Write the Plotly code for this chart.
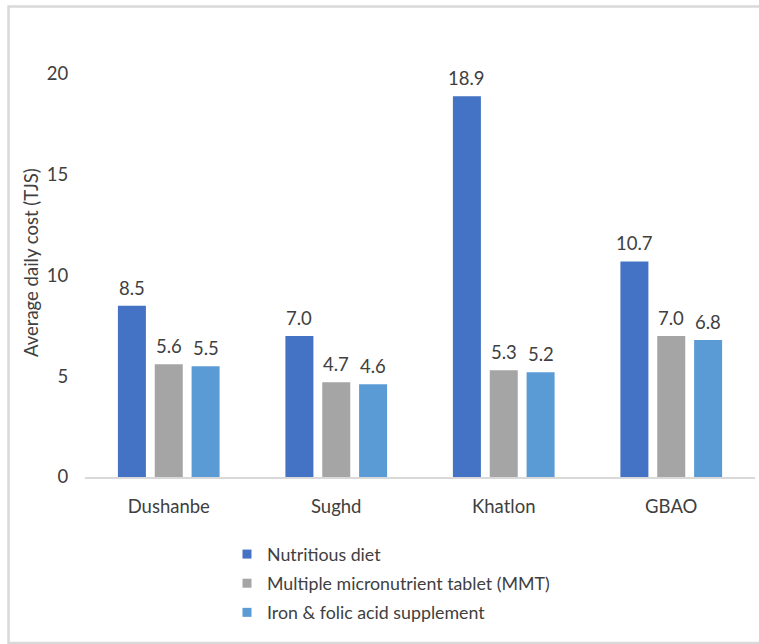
import plotly.graph_objects as go

# Average daily cost by region (TJS)
regions = ["Dushanbe", "Sughd", "Khatlon", "GBAO"]
nutritious_diet = [8.5, 7.0, 18.9, 10.7]
mmt_tablet = [5.6, 4.7, 5.3, 7.0]
ifa_supplement = [5.5, 4.6, 5.2, 6.8]

series_names = [
    "Nutritious diet",
    "Multiple micronutrient tablet (MMT)",
    "Iron & folic acid supplement",
]
series_values = [nutritious_diet, mmt_tablet, ifa_supplement]
series_colors = ["#4472C4", "#A5A5A5", "#5B9BD5"]

y_ticks = [0, 5, 10, 15, 20]

FONT = "Lato"
FSIZE = 18.5
TEXT_COLOR = "#404040"

W, H = 759, 644
M_L, M_R, M_T, M_B = 85, 4, 74, 167
plot_w = W - M_L - M_R
plot_h = H - M_T - M_B

fig = go.Figure()
for name, vals, color in zip(series_names, series_values, series_colors):
    fig.add_trace(go.Bar(
        x=regions, y=vals, name=name, showlegend=False,
        marker=dict(color=color, line=dict(width=0)),
    ))

# small square legend keys
for i, (name, color) in enumerate(zip(series_names, series_colors)):
    fig.add_trace(go.Scatter(
        x=[None], y=[None], mode="markers", name=name, legendgroup=f"g{i}",
        marker=dict(symbol="square", size=9, color=color),
    ))

# value labels above each bar, shifted to the bar's slot within its group
bargap = 0.34
groupgap = 0.24
group_w = plot_w / len(regions) * (1 - bargap)
slot_w = group_w / len(series_values)
annotations = []
for i, vals in enumerate(series_values):
    for r, v in zip(regions, vals):
        annotations.append(dict(
            x=r, y=v, xref="x", yref="y", text=f"{v:.1f}",
            showarrow=False, yanchor="bottom", yshift=5,
            xshift=(i - 1) * slot_w,
            font=dict(family=FONT, size=FSIZE, color=TEXT_COLOR),
        ))

# y-axis title
annotations.append(dict(
    x=(31 - M_L) / plot_w, y=(H - M_B - 263) / plot_h,
    xref="paper", yref="paper", text="Average daily cost (TJS)",
    textangle=-90, showarrow=False, xanchor="center", yanchor="middle",
    font=dict(family=FONT, size=FSIZE, color=TEXT_COLOR),
))

# chart frame
frame = dict(
    type="rect", xref="paper", yref="paper",
    x0=(8.5 - M_L) / plot_w, x1=(770 - M_L) / plot_w,
    y0=(H - M_B - 643) / plot_h, y1=(H - M_B - 6.5) / plot_h,
    line=dict(color="#D9D9D9", width=2.5), fillcolor="rgba(0,0,0,0)",
    layer="below",
)

fig.update_layout(
    width=W, height=H,
    margin=dict(l=M_L, r=M_R, t=M_T, b=M_B),
    paper_bgcolor="white", plot_bgcolor="white",
    barmode="group", bargap=bargap, bargroupgap=groupgap,
    font=dict(family=FONT, size=FSIZE, color=TEXT_COLOR),
    showlegend=True,
    legend=dict(
        orientation="v", x=(227 - M_L) / plot_w, xanchor="left",
        y=(H - M_B - 536) / plot_h, yanchor="top",
        font=dict(family=FONT, size=17.8, color=TEXT_COLOR),
        tracegroupgap=3, itemwidth=30, bgcolor="rgba(0,0,0,0)",
    ),
    xaxis=dict(
        showgrid=False, showline=True, linecolor="#D9D9D9", linewidth=2,
        ticks="outside", ticklen=12, tickcolor="rgba(0,0,0,0)",
        tickfont=dict(family=FONT, size=FSIZE, color=TEXT_COLOR),
    ),
    yaxis=dict(
        range=[0, 20], tickvals=y_ticks, showgrid=False, zeroline=False,
        showline=False, ticks="outside", ticklen=12,
        tickcolor="rgba(0,0,0,0)",
        tickfont=dict(family=FONT, size=FSIZE, color=TEXT_COLOR),
    ),
    annotations=annotations,
    shapes=[frame],
)

fig.write_html("out.html")
